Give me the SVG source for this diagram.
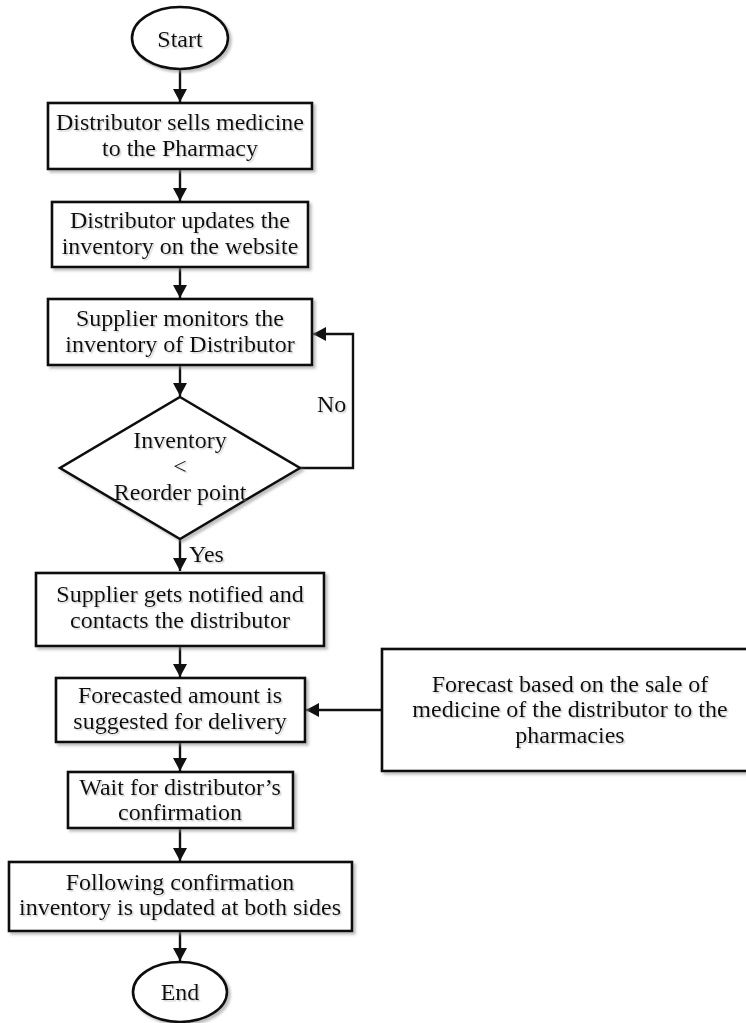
<svg xmlns="http://www.w3.org/2000/svg" width="746" height="1023" viewBox="0 0 746 1023">
  <defs>
    <!-- soft grey drop shadow used under shapes -->
    <filter id="shapeShadow" x="-10%" y="-10%" width="125%" height="130%">
      <feDropShadow dx="2.5" dy="2.5" stdDeviation="1" flood-color="#8a8a8a" flood-opacity="0.55"/>
    </filter>
    <!-- faint shadow under label text -->
    <filter id="textShadow" x="-5%" y="-20%" width="110%" height="150%">
      <feDropShadow dx="1.5" dy="1.5" stdDeviation="0.6" flood-color="#9a9a9a" flood-opacity="0.45"/>
    </filter>
    <marker id="arrow" markerUnits="userSpaceOnUse" markerWidth="14" markerHeight="14" refX="13" refY="7" orient="auto">
      <path d="M0,0 L13,7 L0,14 z" fill="#111111"/>
    </marker>
  </defs>
  <style>
    .shape { fill: #ffffff; stroke: #111111; stroke-width: 2.6; filter: url(#shapeShadow); }
    .label { font-family: "Liberation Serif", "Times New Roman", serif; font-size: 24px; fill: #111111; text-anchor: middle; filter: url(#textShadow); }
    .note { font-family: "Liberation Serif", "Times New Roman", serif; font-size: 24px; fill: #111111; filter: url(#textShadow); }
    .edge { fill: none; stroke: #111111; stroke-width: 2.4; }
    .edge-arrow { fill: none; stroke: #111111; stroke-width: 2.4; marker-end: url(#arrow); }
  </style>
  <rect width="746" height="1023" fill="#ffffff"/>

  <!-- connectors -->
  <g id="connectors">
    <line class="edge-arrow" x1="180" y1="70" x2="180" y2="102"/>
    <line class="edge-arrow" x1="180" y1="169" x2="180" y2="201"/>
    <line class="edge-arrow" x1="180" y1="267" x2="180" y2="298"/>
    <line class="edge-arrow" x1="180" y1="365" x2="180" y2="396"/>
    <polyline class="edge-arrow" points="300,468 353,468 353,334 313,334"/>
    <line class="edge-arrow" x1="180" y1="539" x2="180" y2="571"/>
    <line class="edge-arrow" x1="180" y1="646" x2="180" y2="677"/>
    <line class="edge-arrow" x1="382" y1="710" x2="306" y2="710"/>
    <line class="edge-arrow" x1="180" y1="742" x2="180" y2="771"/>
    <line class="edge-arrow" x1="180" y1="828" x2="180" y2="861"/>
    <line class="edge-arrow" x1="180" y1="931" x2="180" y2="961"/>
  </g>

  <!-- branch labels -->
  <g id="branch-labels">
    <text class="note" x="317" y="412">No</text>
    <text class="note" x="189" y="562">Yes</text>
  </g>

  <g id="start">
    <ellipse class="shape" cx="180" cy="38" rx="48" ry="31"/>
    <text class="label" x="180" y="47">Start</text>
  </g>

  <g id="sell-medicine">
    <rect class="shape" x="48" y="103" width="264" height="66"/>
    <text class="label" x="180" y="130">Distributor sells medicine</text>
    <text class="label" x="180" y="156">to the Pharmacy</text>
  </g>

  <g id="update-inventory">
    <rect class="shape" x="52" y="202" width="256" height="65"/>
    <text class="label" x="180" y="228">Distributor updates the</text>
    <text class="label" x="180" y="254">inventory on the website</text>
  </g>

  <g id="monitor-inventory">
    <rect class="shape" x="48" y="299" width="264" height="66"/>
    <text class="label" x="180" y="326">Supplier monitors the</text>
    <text class="label" x="180" y="352">inventory of Distributor</text>
  </g>

  <g id="reorder-check">
    <polygon class="shape" points="180,397 300,468 180,539 60,468"/>
    <text class="label" x="180" y="448">Inventory</text>
    <text class="label" x="180" y="474">&lt;</text>
    <text class="label" x="180" y="500">Reorder point</text>
  </g>

  <g id="notify-supplier">
    <rect class="shape" x="36" y="573" width="288" height="73"/>
    <text class="label" x="180" y="602">Supplier gets notified and</text>
    <text class="label" x="180" y="628">contacts the distributor</text>
  </g>

  <g id="suggest-amount">
    <rect class="shape" x="56" y="678" width="249" height="64"/>
    <text class="label" x="180" y="703">Forecasted amount is</text>
    <text class="label" x="180" y="729">suggested for delivery</text>
  </g>

  <g id="forecast">
    <rect class="shape" x="382" y="649" width="376" height="122"/>
    <text class="label" x="570" y="692">Forecast based on the sale of</text>
    <text class="label" x="570" y="717">medicine of the distributor to the</text>
    <text class="label" x="570" y="743">pharmacies</text>
  </g>

  <g id="await-confirmation">
    <rect class="shape" x="68" y="772" width="225" height="56"/>
    <text class="label" x="180" y="795">Wait for distributor’s</text>
    <text class="label" x="180" y="820">confirmation</text>
  </g>

  <g id="update-both">
    <rect class="shape" x="9" y="862" width="343" height="69"/>
    <text class="label" x="180" y="890">Following confirmation</text>
    <text class="label" x="180" y="915">inventory is updated at both sides</text>
  </g>

  <g id="end">
    <ellipse class="shape" cx="180" cy="992" rx="47" ry="30"/>
    <text class="label" x="180" y="1000">End</text>
  </g>
</svg>
